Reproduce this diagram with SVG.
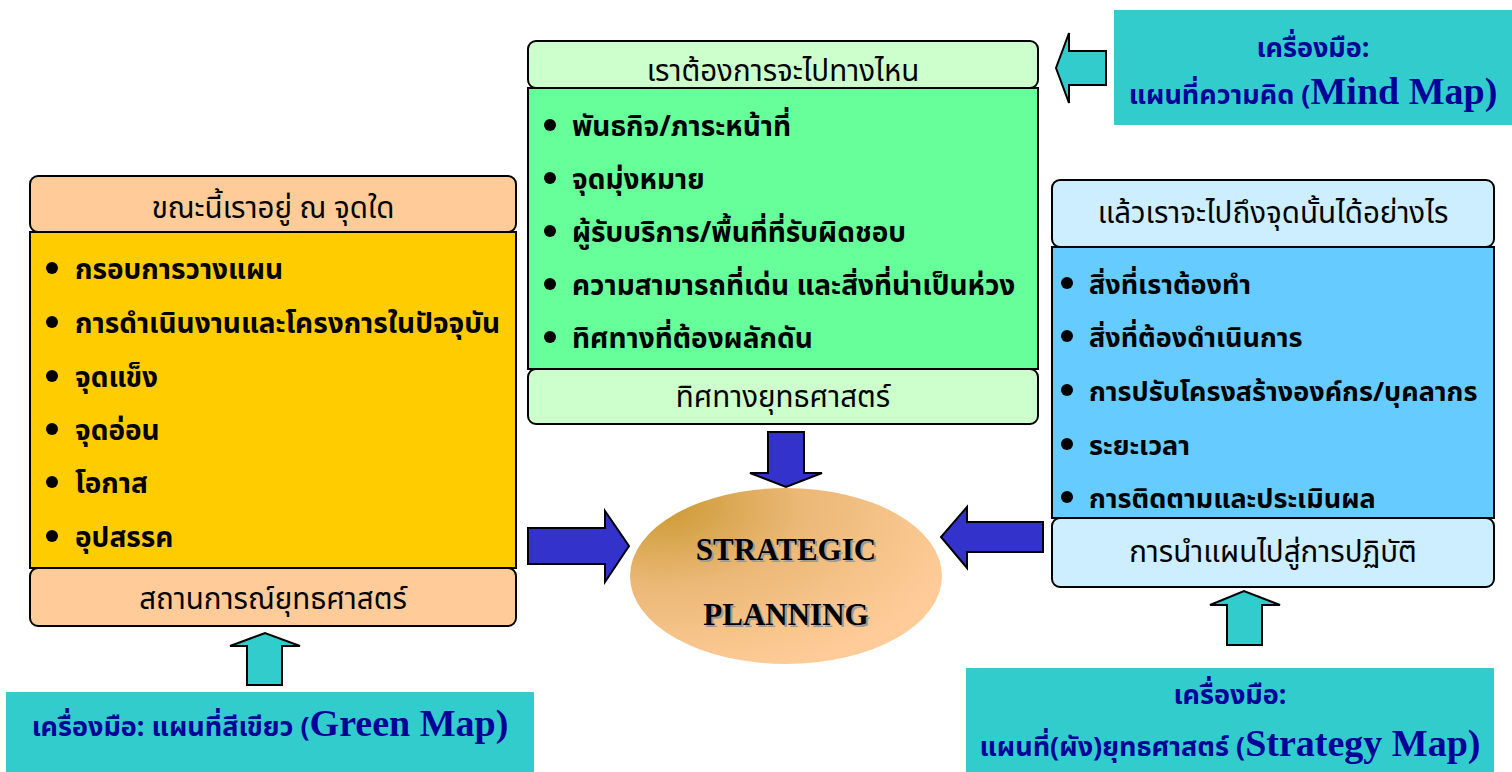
<svg xmlns="http://www.w3.org/2000/svg" width="1512" height="772" viewBox="0 0 1512 772">
<style>
.bx{stroke:#000;stroke-width:2}
.hd{font-family:"Noto Sans Thai","Noto Sans","DejaVu Sans",sans-serif;font-size:29.5px;fill:#000;text-anchor:middle}
.it{font-family:"Noto Sans Thai","Noto Sans","DejaVu Sans",sans-serif;font-size:28px;font-weight:bold;fill:#000}
.it2{font-size:27px}
.tool{font-family:"Noto Sans Thai","Noto Sans","DejaVu Sans",sans-serif;font-size:27px;font-weight:bold;fill:#000099;text-anchor:middle}
.en{font-family:"Liberation Serif","Times New Roman",serif;font-size:38px;font-weight:bold}
.sp{font-family:"Liberation Serif","Times New Roman",serif;font-size:31px;font-weight:bold;text-anchor:middle}
.blue{fill:#3333CC;stroke:#000;stroke-width:2;stroke-linejoin:miter}
.cyan{fill:#33CCCC;stroke:#000;stroke-width:2;stroke-linejoin:miter}
</style>
<defs>
<radialGradient id="eg" cx="0.1" cy="0.1" r="1.0">
<stop offset="0" stop-color="#CC9933"/>
<stop offset="0.45" stop-color="#EBB877"/>
<stop offset="1" stop-color="#FFCC99"/>
</radialGradient>
<circle id="dot" r="6" fill="#000"/>
</defs>
<rect width="1512" height="772" fill="#fff"/>

<g id="node-current">
<rect class="bx" x="30" y="232" width="486" height="336" fill="#FFCC00"/>
<rect class="bx" x="30" y="176" width="486" height="56" rx="8" fill="#FFCC99"/>
<rect class="bx" x="30" y="568" width="486" height="58" rx="8" fill="#FFCC99"/>
<text class="hd" x="273" y="218">ขณะนี้เราอยู่ ณ จุดใด</text>
<use href="#dot" x="52" y="268"/><text class="it" x="75" y="279">กรอบการวางแผน</text>
<use href="#dot" x="52" y="322"/><text class="it" x="75" y="333">การดำเนินงานและโครงการในปัจจุบัน</text>
<use href="#dot" x="52" y="376"/><text class="it" x="75" y="387">จุดแข็ง</text>
<use href="#dot" x="52" y="429"/><text class="it" x="75" y="440">จุดอ่อน</text>
<use href="#dot" x="52" y="482"/><text class="it" x="75" y="493">โอกาส</text>
<use href="#dot" x="52" y="536"/><text class="it" x="75" y="547">อุปสรรค</text>
<text class="hd" x="273" y="609">สถานการณ์ยุทธศาสตร์</text>
</g>

<g id="node-target">
<rect class="bx" x="528" y="88" width="510" height="281" fill="#66FF99"/>
<rect class="bx" x="528" y="41" width="510" height="47" rx="8" fill="#CCFFCC"/>
<rect class="bx" x="528" y="369" width="510" height="55" rx="8" fill="#CCFFCC"/>
<text class="hd" x="783" y="81">เราต้องการจะไปทางไหน</text>
<use href="#dot" x="550" y="125"/><text class="it" x="572" y="136">พันธกิจ/ภาระหน้าที่</text>
<use href="#dot" x="550" y="178"/><text class="it" x="572" y="189">จุดมุ่งหมาย</text>
<use href="#dot" x="550" y="231"/><text class="it" x="572" y="242">ผู้รับบริการ/พื้นที่ที่รับผิดชอบ</text>
<use href="#dot" x="550" y="284"/><text class="it" x="572" y="295">ความสามารถที่เด่น และสิ่งที่น่าเป็นห่วง</text>
<use href="#dot" x="550" y="337"/><text class="it" x="572" y="348">ทิศทางที่ต้องผลักดัน</text>
<text class="hd" x="783" y="407">ทิศทางยุทธศาสตร์</text>
</g>

<g id="node-how">
<rect class="bx" x="1052" y="247" width="442" height="271" fill="#66CCFF"/>
<rect class="bx" x="1052" y="180" width="442" height="67" rx="8" fill="#CCEEFF"/>
<rect class="bx" x="1052" y="518" width="442" height="69" rx="8" fill="#CCEEFF"/>
<text class="hd" x="1273" y="223">แล้วเราจะไปถึงจุดนั้นได้อย่างไร</text>
<use href="#dot" x="1067" y="283"/><text class="it it2" x="1089" y="294">สิ่งที่เราต้องทำ</text>
<use href="#dot" x="1067" y="336"/><text class="it it2" x="1089" y="347">สิ่งที่ต้องดำเนินการ</text>
<use href="#dot" x="1067" y="390"/><text class="it it2" x="1089" y="401">การปรับโครงสร้างองค์กร/บุคลากร</text>
<use href="#dot" x="1067" y="444"/><text class="it it2" x="1089" y="455">ระยะเวลา</text>
<use href="#dot" x="1067" y="497"/><text class="it it2" x="1089" y="508">การติดตามและประเมินผล</text>
<text class="hd" x="1273" y="562">การนำแผนไปสู่การปฏิบัติ</text>
</g>

<g id="node-strategic">
<ellipse cx="786" cy="576" rx="156" ry="88" fill="url(#eg)"/>
<text class="sp" x="788" y="562" fill="#999">STRATEGIC</text>
<text class="sp" x="786" y="560" fill="#000">STRATEGIC</text>
<text class="sp" x="788" y="627" fill="#999">PLANNING</text>
<text class="sp" x="786" y="625" fill="#000">PLANNING</text>
</g>

<g id="node-mindmap">
<rect x="1114" y="10" width="398" height="115" fill="#33CCCC"/>
<text class="tool" x="1313" y="57">เครื่องมือ:</text>
<text class="tool" x="1313" y="104">แผนที่ความคิด (<tspan class="en">Mind Map)</tspan></text>
</g>

<g id="node-greenmap">
<rect x="6" y="692" width="528" height="80" fill="#33CCCC"/>
<text class="tool" x="270" y="736">เครื่องมือ: แผนที่สีเขียว (<tspan class="en">Green Map)</tspan></text>
</g>

<g id="node-strategymap">
<rect x="966" y="668" width="528" height="104" fill="#33CCCC"/>
<text class="tool" x="1230" y="704">เครื่องมือ:</text>
<text class="tool" x="1230" y="756">แผนที่(ผัง)ยุทธศาสตร์ (<tspan class="en">Strategy Map)</tspan></text>
</g>

<g id="connectors">
<polygon class="blue" points="768,432 804,432 804,473 822,473 786,487 750,473 768,473"/>
<polygon class="blue" points="528,528 605,528 605,511 629,546 605,582 605,564 528,564"/>
<polygon class="blue" points="1043,522 967,522 967,507 941,537 967,568 967,552 1043,552"/>
<polygon class="cyan" points="1106,51 1069,51 1069,33 1056,68 1069,103 1069,85 1106,85"/>
<polygon class="cyan" points="247,685 247,646 230,646 265,633 300,646 282,646 282,685"/>
<polygon class="cyan" points="1227,645 1227,605 1210,605 1244,591 1280,605 1262,605 1262,645"/>
</g>
</svg>
